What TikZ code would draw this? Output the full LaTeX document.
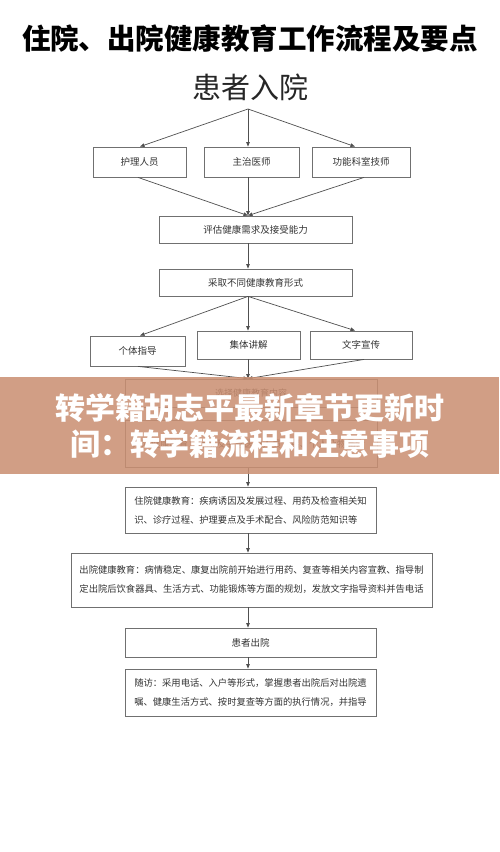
\documentclass[tikz,border=0pt]{standalone}
\usepackage{fontspec}
\setmainfont{Noto Sans CJK SC}
\usetikzlibrary{arrows.meta,calc}
\definecolor{boxgray}{HTML}{707070}
\definecolor{linegray}{HTML}{505050}
\definecolor{txt}{HTML}{333333}
\definecolor{bannerfill}{RGB}{202,143,114}
\begin{document}
\begin{tikzpicture}[x=1pt,y=-1pt,
  sbox/.style={draw=boxgray,line width=0.8pt,inner sep=0pt,text=txt,font=\fontsize{9.5}{12}\selectfont},
  tbox/.style={draw=boxgray,line width=0.8pt,inner sep=0pt,align=left,text=txt,font=\fontsize{9.3}{19}\selectfont},
  arr/.style={draw=linegray,line width=0.7pt,-{Triangle[length=4.5pt,width=3.5pt]}},
  ln/.style={draw=linegray,line width=0.7pt}]
\fill[white] (0,0) rectangle (499,852);
\useasboundingbox (0,0) rectangle (499,852);

\node[font=\fontsize{28.5}{30}\bfseries\selectfont,text=black] (title) at (250,38) {住院、出院健康教育工作流程及要点};
\node[font=\fontsize{29}{32}\selectfont,text=black!85] (start) at (250,87) {患者入院};

\node[sbox,minimum width=93pt,minimum height=30pt] (n1) at (139.5,162) {护理人员};
\node[sbox,minimum width=95pt,minimum height=30pt] (n2) at (251.5,162) {主治医师};
\node[sbox,minimum width=98pt,minimum height=30pt] (n3) at (361,162) {功能科室技师};

\node[sbox,minimum width=193pt,minimum height=27pt] (eval) at (255.5,229.5) {评估健康需求及接受能力};
\node[sbox,minimum width=193pt,minimum height=27pt] (form) at (255.5,282.5) {采取不同健康教育形式};

\node[sbox,minimum width=95pt,minimum height=30pt] (m1) at (137.5,351) {个体指导};
\node[sbox,minimum width=103pt,minimum height=28pt] (m2) at (248.5,345) {集体讲解};
\node[sbox,minimum width=102pt,minimum height=28pt] (m3) at (361,345) {文字宣传};

\node[sbox,minimum width=252pt,minimum height=28pt,font=\fontsize{9}{12}\selectfont] (choose) at (251,393) {选择健康教育内容};
\node[tbox,minimum width=252pt,minimum height=47pt,anchor=north west,text width=238pt,inner xsep=7pt,inner ysep=6pt] (admit) at (125,420) {入院健康教育：环境及主管医护人员介绍、个人及物品介};

\node[tbox,minimum width=251pt,minimum height=46pt] (inhosp) at (250.5,510) {住院健康教育：疾病诱因及发展过程、用药及检查相关知\\识、诊疗过程、护理要点及手术配合、风险防范知识等};
\node[tbox,minimum width=361pt,minimum height=54pt] (disch) at (251.5,580) {出院健康教育：病情稳定、康复出院前开始进行用药、复查等相关内容宣教、指导制\\定出院后饮食器具、生活方式、功能锻炼等方面的规划，发放文字指导资料并告电话};
\node[sbox,minimum width=251pt,minimum height=29pt] (out) at (250.5,642.5) {患者出院};
\node[tbox,minimum width=251pt,minimum height=47pt] (follow) at (250.5,692.5) {随访：采用电话、入户等形式，掌握患者出院后对出院遗\\嘱、健康生活方式、按时复查等方面的执行情况，并指导};

\coordinate (top) at (248,109);
\coordinate (ax) at (248,0);
\coordinate (l1) at (140,0);
\coordinate (r1) at (355,0);
\coordinate (l2) at (138,0);
\coordinate (r2) at (364,0);

\draw[arr] (top) -- (l1 |- n1.north);
\draw[arr] (top) -- (ax |- n2.north);
\draw[arr] (top) -- (r1 |- n3.north);

\draw[arr] (l2 |- n1.south) -- (ax |- eval.north);
\draw[arr] (ax |- n2.south) -- (ax |- eval.north);
\draw[arr] (r2 |- n3.south) -- (ax |- eval.north);

\draw[arr] (ax |- eval.south) -- (ax |- form.north);

\draw[arr] (ax |- form.south) -- (l1 |- m1.north);
\draw[arr] (ax |- form.south) -- (ax |- m2.north);
\draw[arr] (ax |- form.south) -- (r1 |- m3.north);

\draw[arr] (l2 |- m1.south) -- (ax |- choose.north);
\draw[arr] (ax |- m2.south) -- (ax |- choose.north);
\draw[arr] (r2 |- m3.south) -- (ax |- choose.north);

\draw[arr] (ax |- choose.south) -- (ax |- admit.north);
\draw[arr] (ax |- admit.south) -- (ax |- inhosp.north);
\draw[arr] (ax |- inhosp.south) -- (ax |- disch.north);
\draw[arr] (ax |- disch.south) -- (ax |- out.north);
\draw[arr] (ax |- out.south) -- (ax |- follow.north);

\fill[bannerfill,opacity=0.86] (0,377) rectangle (499,474);
\node[font=\fontsize{30}{36}\bfseries\selectfont,text=white,align=center] (ban) at (250,426) {转学籍胡志平最新章节更新时\\间：转学籍流程和注意事项};
\end{tikzpicture}
\end{document}
